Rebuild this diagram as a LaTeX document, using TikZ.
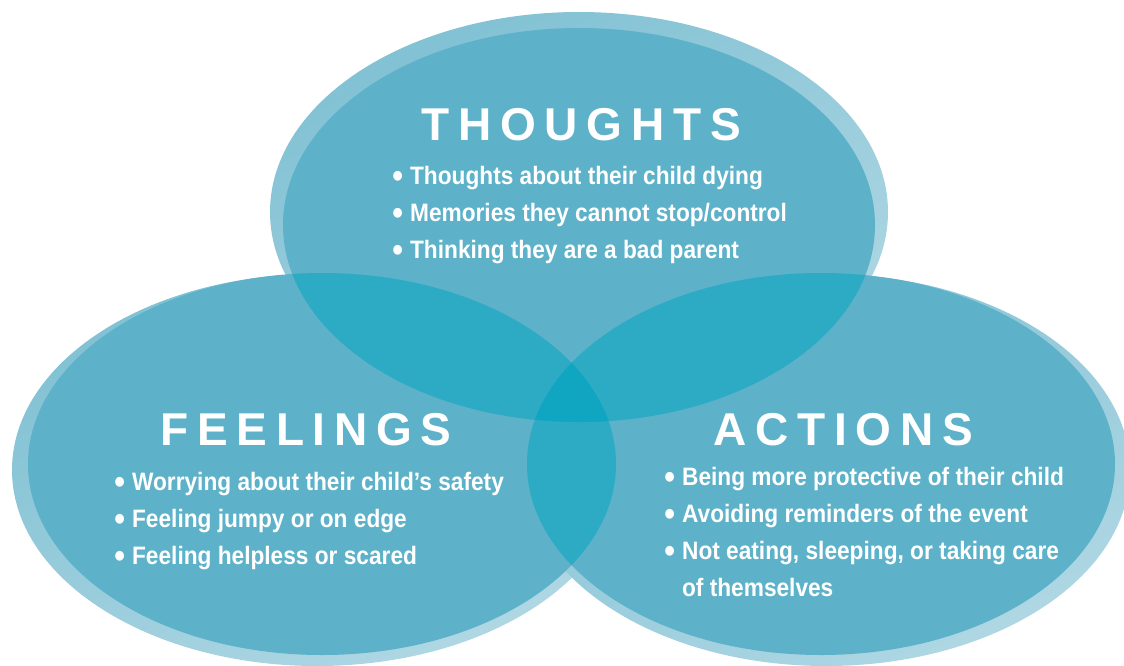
\documentclass[tikz,border=0pt]{standalone}
\usepackage{fontspec}
\setmainfont{Liberation Sans}
\newfontfamily\listfont[FakeStretch=0.9]{Liberation Sans}
\newfontfamily\titlefont[LetterSpace=19]{Liberation Sans}

\definecolor{vennmain}{RGB}{93,178,201}
\definecolor{vennpair}{RGB}{45,170,196}
\definecolor{venncore}{RGB}{16,165,193}
\definecolor{backtop}{RGB}{128,193,211}
\definecolor{backbot}{RGB}{176,215,228}

%% the three circles of the diagram
\newcommand{\thoughtsarea}{(579,225) ellipse [x radius=296, y radius=197]}
\newcommand{\feelingsarea}{(322,464) ellipse [x radius=294, y radius=191]}
\newcommand{\actionsarea}{(821,464) ellipse [x radius=294, y radius=191]}
\newcommand{\lb}{\raisebox{-1.4pt}{\scalebox{1.35}{\textbullet}}\hspace{3.5pt}}

\begin{document}
\begin{tikzpicture}%
        [x=0.5pt, y=-0.5pt,
        backdrop/.style={top color=backtop, bottom color=backbot, shading angle=25},
        area/.style={fill=vennmain},
        pair/.style={fill=vennpair},
        core/.style={fill=venncore},
        heading/.style={anchor=base west, inner sep=0pt, text=white,
          font=\titlefont\bfseries\fontsize{23}{26}\selectfont},
        points/.style={anchor=north west, inner sep=0pt, text=white, align=left,
          font=\listfont\bfseries\fontsize{12.6}{18.5}\selectfont}]

    \useasboundingbox (0,0) rectangle (1124,665);
    %% Drawing the light rims behind
    \shade[backdrop] (579,212) ellipse [x radius=309, y radius=200];
    \shade[backdrop] (317,470) ellipse [x radius=305, y radius=196];
    \shade[backdrop] (826,470) ellipse [x radius=304, y radius=196];
    %%
    %% Drawing the circles
    %%
    \fill[area] \thoughtsarea;
    \fill[area] \feelingsarea;
    \fill[area] \actionsarea;
    %% overlaps of two
    \begin{scope}
      \clip \thoughtsarea;
      \fill[pair] \feelingsarea;
      \fill[pair] \actionsarea;
    \end{scope}
    \begin{scope}
      \clip \feelingsarea;
      \fill[pair] \actionsarea;
    \end{scope}
    %% overlap of all three
    \begin{scope}
      \clip \thoughtsarea;
      \clip \feelingsarea;
      \fill[core] \actionsarea;
    \end{scope}
    %%
    %% Drawing the texts
    %%
    \node[heading] (thoughts) at (421,140) {THOUGHTS};
    \node[points] (thoughtslist) at (392,166)
      {\lb Thoughts about their child dying\\
       \lb Memories they cannot stop/control\\
       \lb Thinking they are a bad parent};

    \node[heading] (feelings) at (160,445) {FEELINGS};
    \node[points] (feelingslist) at (114,472)
      {\lb Worrying about their child’s safety\\
       \lb Feeling jumpy or on edge\\
       \lb Feeling helpless or scared};

    \node[heading] (actions) at (713,445) {ACTIONS};
    \node[points] (actionslist) at (664,467)
      {\lb Being more protective of their child\\
       \lb Avoiding reminders of the event\\
       \lb Not eating, sleeping, or taking care\\
       \phantom{\lb}of themselves};
    %%
    \end{tikzpicture}
\end{document}
